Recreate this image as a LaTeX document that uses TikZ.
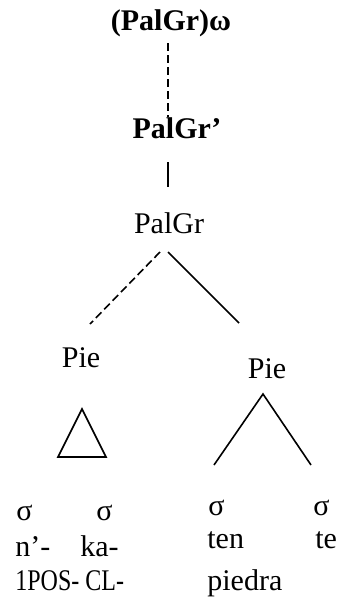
\documentclass[tikz,border=0pt]{standalone}
\usepackage{graphicx}
\usepackage{fontspec}
\setmainfont{Liberation Serif}

\begin{document}
\begin{tikzpicture}[
  x=0.5pt, y=-0.5pt,
  lbl/.style={inner sep=0pt, font=\fontsize{15}{18}\selectfont, anchor=base west},
  boldlbl/.style={lbl, font=\fontsize{15}{18}\selectfont\bfseries},
  edge/.style={line width=0.8pt},
  dashedge/.style={edge, dash pattern=on 4pt off 2pt}
]
\useasboundingbox (0,0) rectangle (343,605);

\node[boldlbl, anchor=base] (word) at (171,30) {(PalGr)ω};
\node[boldlbl, anchor=base] (palgrbar) at (177,138) {PalGr’};
\node[lbl, anchor=base] (palgr) at (169,233) {PalGr};
\node[lbl, anchor=base] (pieL) at (81,367) {Pie};
\node[lbl, anchor=base] (pieR) at (267,378) {Pie};

\node[lbl] (sigA) at (16,520) {σ};
\node[lbl] (sigB) at (96,520) {σ};
\node[lbl] (sigC) at (208,515) {σ};
\node[lbl] (sigD) at (313,515) {σ};
\node[lbl] (segA) at (15,556) {n’-};
\node[lbl] (segB) at (80,556) {ka-};
\node[lbl] (glossL) at (15,590) {\scalebox{0.8}[1]{1POS- CL-}};
\node[lbl] (segC) at (207,548) {ten};
\node[lbl] (segD) at (315,548) {te};
\node[lbl] (glossR) at (207,590) {piedra};

\coordinate (wordfoot) at (168,43);
\coordinate (barhead) at (168,117);
\coordinate (barfoot) at (168,162);
\coordinate (palgrhead) at (168,187);
\coordinate (apexL) at (160,252);
\coordinate (apexR) at (168,252);
\coordinate (legL) at (90,324);
\coordinate (legR) at (239,323);
\coordinate (triT) at (82,409);
\coordinate (triL) at (58,457);
\coordinate (triR) at (106,457);
\coordinate (lamT) at (263,394);
\coordinate (lamL) at (214,465);
\coordinate (lamR) at (311,465);

\draw[dashedge] (wordfoot) -- (barhead);
\draw[edge] (barfoot) -- (palgrhead);
\draw[dashedge] (apexL) -- (legL);
\draw[edge] (apexR) -- (legR);
\draw[edge] (triT) -- (triL) -- (triR) -- cycle;
\draw[edge] (lamL) -- (lamT) -- (lamR);
\end{tikzpicture}
\end{document}
